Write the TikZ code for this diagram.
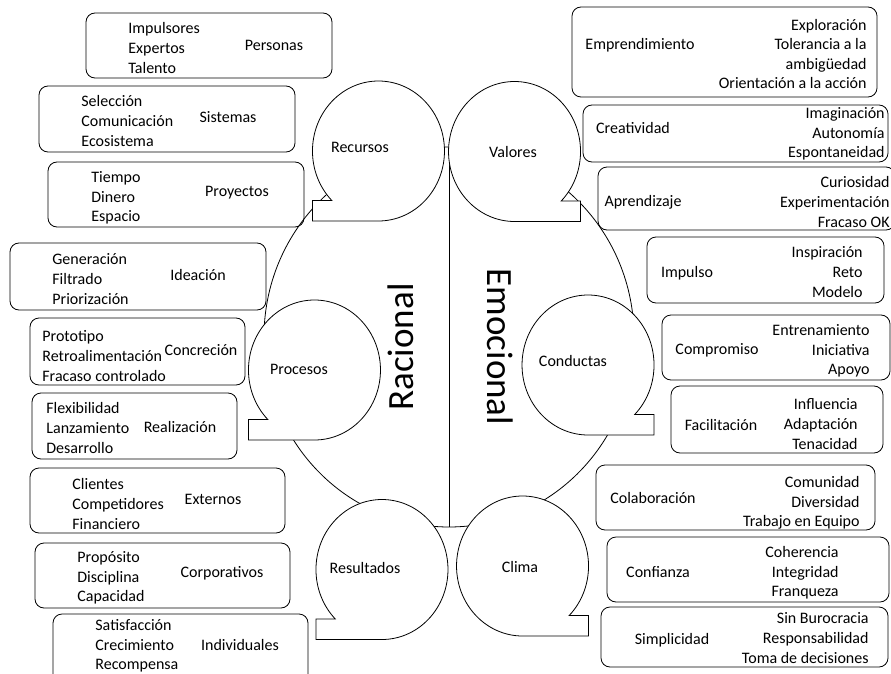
\documentclass[tikz,border=0pt]{standalone}
\usepackage{fontspec}
\setmainfont{Carlito}
\usetikzlibrary{shapes.geometric}

\begin{document}
\begin{tikzpicture}[x=1pt, y=-1pt, line width=0.8pt,
    every node/.style={font=\fontsize{16}{19.6}\selectfont, inner sep=0pt},
    tag/.style={draw, rounded corners=9pt},
    bubble/.style={draw, fill=white},
    big/.style={font=\fontsize{37}{44}\selectfont}]
    \path[use as bounding box] (0,0) rectangle (891,674);
    \clip (0,0) rectangle (891,674);

    \node[draw, ellipse, minimum width=370pt, minimum height=380pt] (brain) at (449,337) {};
    \draw (brain.north) -- (brain.south);
    \node[big, rotate=90, anchor=base] (racional) at (413,347) {Racional};
    \node[big, rotate=-90, anchor=base] (emocional) at (487,347) {Emocional};

    \foreach \cx/\cy/\s in {378.5/151/-1, 514.5/151.5/1, 314.5/370/-1, 588/365/1, 382/569.5/-1, 522.5/566/1}{
        \draw[bubble] (\cx,\cy+70) -- ({\cx+\s*66},\cy+70) -- ({\cx+\s*66},\cy+49.5) -- ({\cx+\s*46.7},\cy+49.5)
            arc[start angle=90-45*\s, end angle=90-360*\s, x radius=66, y radius=70] -- cycle;
    }
    \foreach \n/\x/\y/\t in {recursos/360/147/Recursos, valores/513/152/Valores, procesos/299/369/Procesos,
        conductas/573/361/Conductas, resultados/365/568/Resultados, clima/520/567/Clima}
        \node (\n) at (\x,\y) {\t};

    \foreach \a/\b/\c/\d in {86/13/332/78, 39/86/295/152, 48/162/304/227, 10/243/266/310, 30/318/245/385,
        32/393/237/459, 30/468/285/533, 35/543/290/608, 53/614/308/690,
        572/7/877/97, 583/105/888/162, 598/167/895/230, 647/237/884/303, 662/315/890/380,
        671/386/883/453, 596/465/875/530, 607/537/889/602, 601/607/888/667}
        \draw[tag] (\a,\b) rectangle (\c,\d);

    \foreach \n/\x/\y/\t in {personas/274/45/Personas, sistemas/228/117/Sistemas, proyectos/237/193/Proyectos,
        ideacion/198/275/Ideación, concrecion/201/350/Concreción, realizacion/180/427/Realización,
        externos/213/499/Externos, corporativos/222/573/Corporativos, individuales/240/645/Individuales,
        emprendimiento/640/45/Emprendimiento, creatividad/633/128/Creatividad, aprendizaje/643/202/Aprendizaje,
        impulso/687/273/Impulso, compromiso/717/350/Compromiso, facilitacion/721/425/Facilitación,
        colaboracion/653/498/Colaboración, confianza/658/572/Confianza, simplicidad/672/640/Simplicidad}
        \node (\n) at (\x,\y) {\t};

    \foreach \n/\x/\y/\t in {personas/128/48/Impulsores\\Expertos\\Talento,
        sistemas/81/121/Selección\\Comunicación\\Ecosistema,
        proyectos/91/198/Tiempo\\Dinero\\Espacio,
        ideacion/52/279/Generación\\Filtrado\\Priorización,
        concrecion/42/356/Prototipo\\Retroalimentación\\Fracaso controlado,
        realizacion/46/428/Flexibilidad\\Lanzamiento\\Desarrollo,
        externos/72/504/Clientes\\Competidores\\Financiero,
        corporativos/77/578/Propósito\\Disciplina\\Capacidad,
        individuales/95/646/Satisfacción\\Crecimiento\\Recompensa}
        \node[align=left, anchor=west] (\n-items) at (\x,\y) {\t};

    \foreach \n/\x/\y/\t in {emprendimiento/867/54/Exploración\\Tolerancia a la\\ambigüedad\\Orientación a la acción,
        creatividad/885/134/Imaginación\\Autonomía\\Espontaneidad,
        aprendizaje/890/202/Curiosidad\\Experimentación\\Fracaso OK,
        impulso/863/272/Inspiración\\Reto\\Modelo,
        compromiso/870/351/Entrenamiento\\Iniciativa\\Apoyo,
        facilitacion/858/424/Influencia\\Adaptación\\Tenacidad,
        colaboracion/860/503/Comunidad\\Diversidad\\Trabajo en Equipo,
        confianza/839/573/Coherencia\\Integridad\\Franqueza,
        simplicidad/869/638/Sin Burocracia\\Responsabilidad\\Toma de decisiones}
        \node[align=right, anchor=east] (\n-items) at (\x,\y) {\t};
\end{tikzpicture}
\end{document}
